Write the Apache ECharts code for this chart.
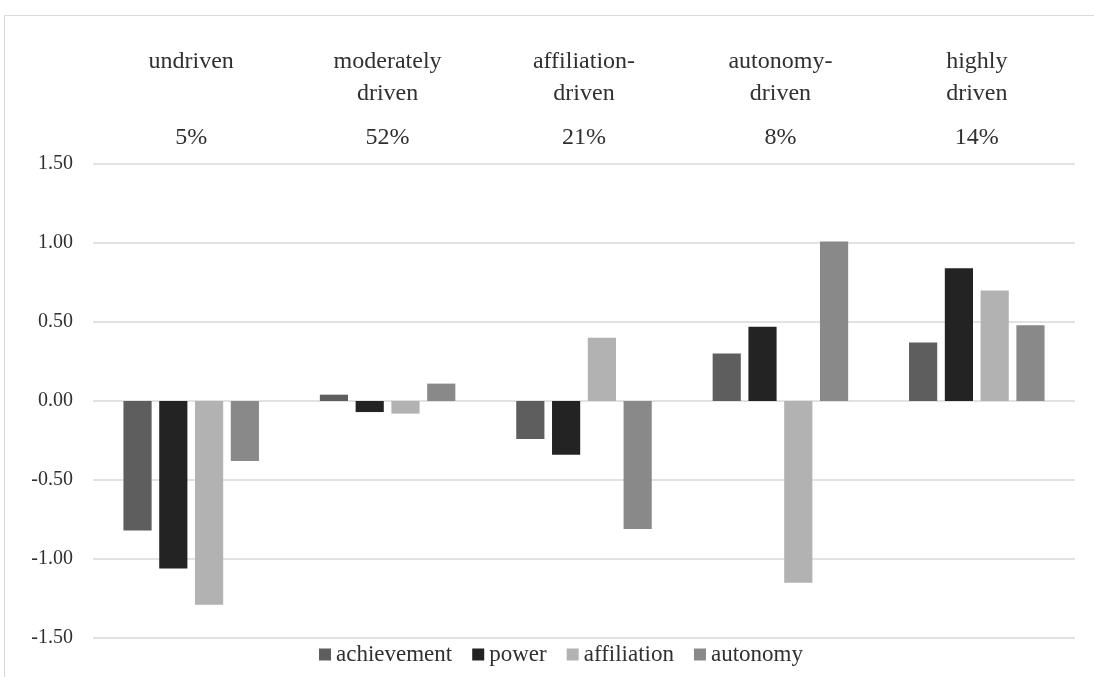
<!DOCTYPE html>
<html>
<head>
<meta charset="utf-8">
<style>
html,body{margin:0;padding:0;background:#fff;}
#chart{width:1094px;height:677px;}
</style>
<script src="https://cdn.jsdelivr.net/npm/echarts@6/dist/echarts.min.js"></script>
</head>
<body>
<div id="chart"></div>
<script>
const categories = ['undriven', 'moderately\ndriven', 'affiliation-\ndriven', 'autonomy-\ndriven', 'highly\ndriven'];
const shares = ['5%', '52%', '21%', '8%', '14%'];
const achievement = [-0.82, 0.04, -0.24, 0.30, 0.37];
const power = [-1.06, -0.07, -0.34, 0.47, 0.84];
const affiliation = [-1.29, -0.08, 0.40, -1.15, 0.70];
const autonomy = [-0.38, 0.11, -0.81, 1.01, 0.48];
const seriesNames = ['achievement', 'power', 'affiliation', 'autonomy'];
const seriesColors = ['#5e5e5e', '#232323', '#b2b2b2', '#898989'];

const serif = '"Liberation Serif", "Times New Roman", serif';
const textColor = '#303030';
const chart = echarts.init(document.getElementById('chart'));
const values = [achievement, power, affiliation, autonomy];

chart.setOption({
  animation: false,
  textStyle: { fontFamily: serif },
  graphic: [{
    type: 'rect', silent: true, z: -10,
    shape: { x: 4.5, y: 15.5, width: 1200, height: 800 },
    style: { fill: 'none', stroke: '#d9d9d9', lineWidth: 1 }
  }],
  grid: { left: 93, right: 19, top: 164, bottom: 39, containLabel: false },
  legend: {
    bottom: 6, left: 314,
    itemWidth: 12, itemHeight: 12, itemGap: 20,
    icon: 'rect',
    textStyle: { fontFamily: serif, fontSize: 23, color: textColor },
    data: seriesNames
  },
  xAxis: {
    type: 'category',
    position: 'top',
    data: categories,
    axisLine: { show: false },
    axisTick: { show: false },
    axisLabel: {
      interval: 0,
      margin: -2,
      formatter: function (v, i) {
        const parts = v.split('\n');
        const l1 = parts[0];
        const l2 = parts.length > 1 ? parts[1] : ' ';
        return '{n|' + l1 + '}\n{n|' + l2 + '}\n{p|' + shares[i] + '}';
      },
      rich: {
        n: { fontFamily: serif, fontSize: 24, lineHeight: 32, color: textColor },
        p: { fontFamily: serif, fontSize: 24, lineHeight: 56, color: textColor }
      }
    }
  },
  yAxis: {
    type: 'value',
    min: -1.5, max: 1.5, interval: 0.5,
    axisLine: { show: false },
    axisTick: { show: false },
    splitLine: { lineStyle: { color: '#d9d9d9', width: 1.5 } },
    axisLabel: {
      margin: 20,
      fontFamily: serif, fontSize: 20, color: textColor,
      formatter: v => v.toFixed(2)
    }
  },
  series: seriesNames.map((name, k) => ({
    name: name,
    type: 'bar',
    data: values[k],
    barGap: '27%',
    barCategoryGap: '31%',
    itemStyle: { color: seriesColors[k] }
  }))
});
</script>
</body>
</html>
